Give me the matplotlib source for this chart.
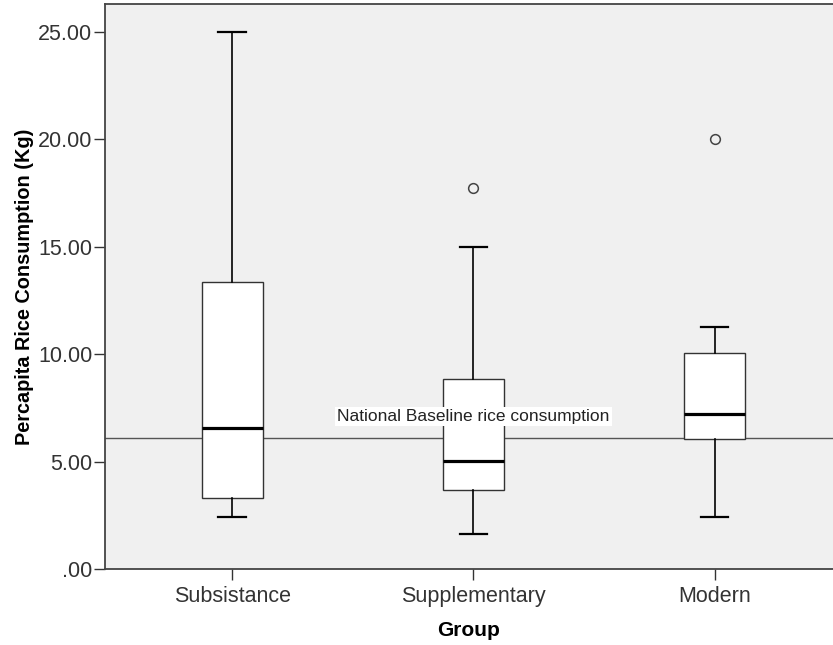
import matplotlib.pyplot as plt
from matplotlib.ticker import FuncFormatter

plt.rcParams['font.family'] = ['Liberation Sans', 'DejaVu Sans']

groups = ['Subsistance', 'Supplementary', 'Modern']
whislo = [2.43, 1.61, 2.43]
q1 = [3.29, 3.68, 6.04]
med = [6.55, 5.03, 7.22]
q3 = [13.35, 8.83, 10.04]
whishi = [25.0, 15.0, 11.25]
fliers = [[], [17.74], [20.0]]
baseline = 6.11

stats = []
for i, g in enumerate(groups):
    stats.append(dict(label=g, whislo=whislo[i], q1=q1[i], med=med[i],
                      q3=q3[i], whishi=whishi[i], fliers=fliers[i]))

fig = plt.figure(figsize=(8.33, 6.45), dpi=100)
ax = fig.add_axes([0.126, 0.1178, 0.874, 0.876])
ax.set_facecolor('#f0f0f0')

ax.axhline(baseline, color='#555555', lw=1.0, zorder=1)

ax.bxp(stats, positions=[1, 2, 3], widths=0.253, capwidths=0.113,
       patch_artist=True,
       boxprops=dict(facecolor='white', edgecolor='#333333', lw=1.0),
       medianprops=dict(color='black', lw=2.3),
       whiskerprops=dict(color='black', lw=1.2),
       capprops=dict(color='black', lw=1.6),
       flierprops=dict(marker='o', markerfacecolor='none', markeredgecolor='#444444',
                       markersize=7, markeredgewidth=1.1),
       zorder=2)

ax.text(2, 7.1, 'National Baseline rice consumption', ha='center', va='center',
        fontsize=12.5, color='#222222',
        bbox=dict(facecolor='white', edgecolor='none', pad=1.5), zorder=3)

ax.set_xlim(0.473, 3.49)
ax.set_ylim(0, 26.3)
ax.set_yticks([0, 5, 10, 15, 20, 25])
ax.yaxis.set_major_formatter(FuncFormatter(lambda v, p: f'{v:.2f}'.lstrip('0') if v < 1 else f'{v:.2f}'))
ax.set_xticks([1, 2, 3])
ax.set_xticklabels(groups)

ax.tick_params(axis='y', labelsize=15.5, length=8, width=1.0, pad=1, color='#333333')
ax.tick_params(axis='x', labelsize=15.5, length=8, width=1.0, pad=4, color='#333333')
for lab in ax.get_xticklabels() + ax.get_yticklabels():
    lab.set_color('#333333')

for s in ['top', 'left', 'bottom']:
    ax.spines[s].set_color('#444444')
    ax.spines[s].set_linewidth(1.3)
ax.spines['right'].set_visible(False)

ax.set_xlabel('Group', fontsize=15, fontweight='bold', labelpad=10)
ax.set_ylabel('Percapita Rice Consumption (Kg)', fontsize=14.3, fontweight='bold', labelpad=3)

fig.savefig('out.png', dpi=100)
